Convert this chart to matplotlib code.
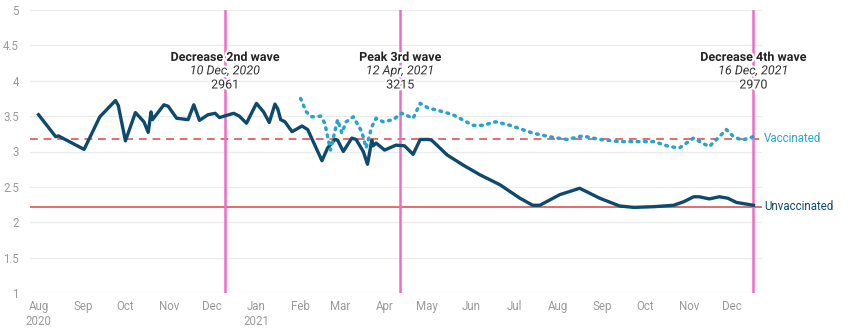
import numpy as np
import pandas as pd
import matplotlib
matplotlib.use("Agg")
import matplotlib.pyplot as plt
import matplotlib.dates as mdates
import matplotlib.patheffects as pe

plt.rcParams['font.family'] = ['Roboto', 'DejaVu Sans']

# weekly-ish readings, unvaccinated
unvacc_dates = ["2020-08-01", "2020-08-13", "2020-08-15", "2020-09-02", "2020-09-13", "2020-09-24",
                "2020-09-26", "2020-10-01", "2020-10-08", "2020-10-14", "2020-10-17", "2020-10-19",
                "2020-10-20", "2020-10-28", "2020-10-31", "2020-11-06", "2020-11-14", "2020-11-18",
                "2020-11-22", "2020-11-28", "2020-12-03", "2020-12-06", "2020-12-16", "2020-12-20",
                "2020-12-25", "2021-01-01", "2021-01-06", "2021-01-10", "2021-01-14", "2021-01-16",
                "2021-01-18", "2021-01-21", "2021-01-26", "2021-02-02", "2021-02-06", "2021-02-11",
                "2021-02-16", "2021-02-20", "2021-02-25", "2021-02-27", "2021-03-03", "2021-03-09",
                "2021-03-12", "2021-03-17", "2021-03-20", "2021-03-23", "2021-03-24", "2021-03-26",
                "2021-04-01", "2021-04-09", "2021-04-15", "2021-04-21", "2021-04-26", "2021-05-02",
                "2021-05-04", "2021-05-15", "2021-05-26", "2021-06-07", "2021-06-21", "2021-07-05",
                "2021-07-14", "2021-07-19", "2021-08-02", "2021-08-16", "2021-08-30", "2021-09-13",
                "2021-09-23", "2021-10-07", "2021-10-21", "2021-10-28", "2021-11-04", "2021-11-08",
                "2021-11-15", "2021-11-22", "2021-11-28", "2021-12-04", "2021-12-16"]
unvacc_vals = [3.52, 3.21, 3.22, 3.03, 3.49, 3.72,
               3.65, 3.15, 3.55, 3.42, 3.27, 3.56,
               3.45, 3.66, 3.64, 3.47, 3.45, 3.66,
               3.44, 3.52, 3.54, 3.48, 3.54, 3.50,
               3.40, 3.68, 3.56, 3.41, 3.67, 3.60,
               3.45, 3.42, 3.28, 3.36, 3.31, 3.09,
               2.87, 3.05, 3.17, 3.16, 3.00, 3.19,
               3.17, 3.00, 2.82, 3.16, 3.08, 3.12,
               3.02, 3.09, 3.08, 2.96, 3.17, 3.17,
               3.16, 2.95, 2.81, 2.67, 2.53, 2.34,
               2.24, 2.24, 2.39, 2.48, 2.34, 2.23,
               2.21, 2.22, 2.24, 2.29, 2.36, 2.36,
               2.33, 2.36, 2.34, 2.28, 2.24]

vacc_dates = ["2021-02-01", "2021-02-05", "2021-02-09", "2021-02-15", "2021-02-18", "2021-02-22",
              "2021-02-25", "2021-02-27", "2021-03-02", "2021-03-05", "2021-03-10", "2021-03-16",
              "2021-03-19", "2021-03-23", "2021-03-26", "2021-03-31", "2021-04-07", "2021-04-13",
              "2021-04-21", "2021-04-26", "2021-05-02", "2021-05-07", "2021-05-19", "2021-06-02",
              "2021-06-09", "2021-06-18", "2021-06-28", "2021-07-14", "2021-07-28", "2021-08-07",
              "2021-08-18", "2021-08-30", "2021-09-13", "2021-09-25", "2021-10-07", "2021-10-18",
              "2021-10-25", "2021-11-04", "2021-11-10", "2021-11-15", "2021-11-21", "2021-11-27",
              "2021-12-02", "2021-12-08", "2021-12-16"]
vacc_vals = [3.75, 3.56, 3.49, 3.50, 3.40, 3.02,
             3.28, 3.45, 3.26, 3.42, 3.49, 3.28,
             3.05, 3.35, 3.47, 3.42, 3.45, 3.54,
             3.47, 3.68, 3.61, 3.59, 3.52, 3.37,
             3.37, 3.42, 3.37, 3.26, 3.20, 3.17,
             3.22, 3.17, 3.14, 3.14, 3.14, 3.07,
             3.05, 3.19, 3.12, 3.07, 3.19, 3.31,
             3.21, 3.16, 3.21]

vacc_ref = 3.18
unvacc_ref = 2.22

event_dates = ["2020-12-10", "2021-04-12", "2021-12-16"]
event_titles = ["Decrease 2nd wave", "Peak 3rd wave", "Decrease 4th wave"]
event_labels = ["10 Dec, 2020", "12 Apr, 2021", "16 Dec, 2021"]
event_counts = ["2961", "3215", "2970"]

ud = pd.to_datetime(unvacc_dates)
vd = pd.to_datetime(vacc_dates)

fig = plt.figure(figsize=(8.5, 3.32), dpi=100)
ax = fig.add_axes([30/850, 39/332, 732/850, 283/332])

dark = "#0d4a6c"
light = "#2aa3cc"
red = "#e36d6d"
pink = "#f06cc4"

ax.set_ylim(1, 5)
ax.set_xlim(pd.Timestamp("2020-07-26"), pd.Timestamp("2021-12-22"))
ax.set_yticks(np.arange(1, 5.01, 0.5))
ax.set_yticklabels(["1", "1.5", "2", "2.5", "3", "3.5", "4", "4.5", "5"])
ax.grid(axis="y", color="#ebebeb", lw=0.9)
ax.set_axisbelow(True)
for s in ax.spines.values():
    s.set_visible(False)

ticks = pd.date_range("2020-08-01", "2021-12-01", freq="MS")
labs = []
for t in ticks:
    if t.month == 8 and t.year == 2020:
        labs.append("Aug\n2020")
    elif t.month == 1:
        labs.append("Jan\n2021")
    else:
        labs.append(t.strftime("%b"))
ax.set_xticks(ticks)
ax.set_xticklabels(labs)
ax.tick_params(axis="both", length=0, colors="#9a9a9a", labelsize=8.3)
ax.tick_params(axis="x", pad=5)
ax.tick_params(axis="y", pad=8)

ax.axhline(vacc_ref, color=red, lw=1.4, ls=(0, (4, 3)), zorder=2)
ax.axhline(unvacc_ref, color=red, lw=1.4, zorder=2)

for d in event_dates:
    ax.axvline(pd.Timestamp(d), color=pink, lw=1.8, zorder=3)

ax.plot(ud, unvacc_vals, color=dark, lw=2.4, solid_joinstyle="round", zorder=4)
ax.plot(vd, vacc_vals, color=light, lw=2.5, ls=(0, (0.5, 1.6)), dash_capstyle="round", zorder=4)

halo = [pe.withStroke(linewidth=3, foreground="white")]
for d, t1, t2, t3 in zip(event_dates, event_titles, event_labels, event_counts):
    x = pd.Timestamp(d)
    ax.text(x, 4.33, t1, ha="center", va="center", fontsize=9, fontweight="bold",
            color="#222222", path_effects=halo, zorder=5)
    ax.text(x, 4.14, t2, ha="center", va="center", fontsize=9, style="italic",
            color="#333333", path_effects=halo, zorder=5)
    ax.text(x, 3.94, t3, ha="center", va="center", fontsize=9,
            color="#333333", path_effects=halo, zorder=5)

ax.text(1.003, vacc_ref, "Vaccinated", transform=ax.get_yaxis_transform(), ha="left",
        va="center", fontsize=8.3, color=light)
ax.text(1.003, unvacc_ref, "Unvaccinated", transform=ax.get_yaxis_transform(), ha="left",
        va="center", fontsize=8.3, color=dark)

fig.savefig("out.png", dpi=100)
